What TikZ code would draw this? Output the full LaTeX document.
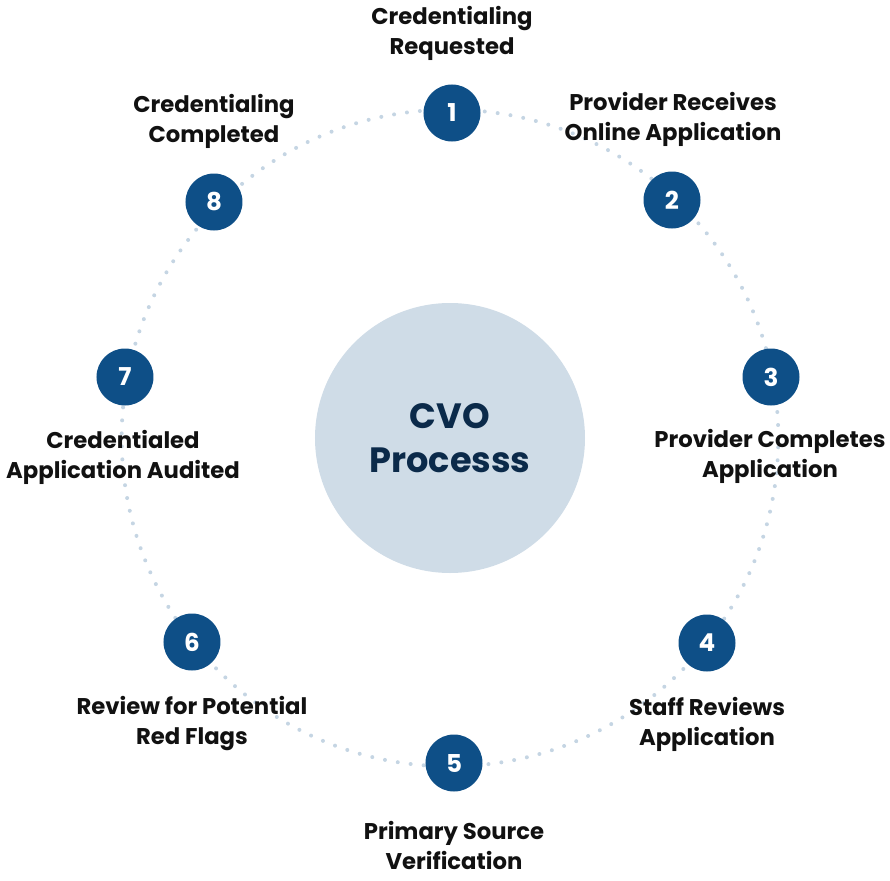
\documentclass[tikz,border=0pt]{standalone}
\usepackage{fontspec}
\setmainfont{Poppins}
\definecolor{stepblue}{RGB}{14,79,135}
\definecolor{coreblue}{RGB}{207,220,231}
\definecolor{corenavy}{RGB}{11,42,74}
\definecolor{ringdot}{RGB}{197,213,227}
\definecolor{labelink}{RGB}{17,17,17}
\usepackage{tikz}
\usetikzlibrary{positioning}

\begin{document}
\begin{tikzpicture}[
  core/.style={circle,fill=coreblue,minimum size=8.1cm,inner sep=0pt,align=center,
    text=corenavy,font=\bfseries\fontsize{30}{37}\selectfont},
  stepdot/.style={circle,fill=stepblue,minimum size=1.71cm,inner sep=0pt,
    text=white,font=\bfseries\fontsize{21}{24}\selectfont},
  steptext/.style={align=center,text=labelink,font=\bfseries\fontsize{19.4}{25.6}\selectfont},
  ring/.style={ringdot,line width=0.12cm,line cap=round,dash pattern=on 0pt off 0.39cm}]
  \useasboundingbox (-13.5,-13.26) rectangle (13.2,13.14);
  % centro
  \node[core] (cvo) at (0,0) {CVO\\Processs};
  % anel pontilhado
  \draw[ring] (cvo.center) circle (9.85);
  % etapas
  \node[stepdot] (s1) at ( 0.06, 9.75) {1};
  \node[stepdot] (s2) at ( 6.66, 7.14) {2};
  \node[stepdot] (s3) at ( 9.63, 1.83) {3};
  \node[stepdot] (s4) at ( 7.71,-6.15) {4};
  \node[stepdot] (s5) at ( 0.12,-9.75) {5};
  \node[stepdot] (s6) at (-7.74,-6.12) {6};
  \node[stepdot] (s7) at (-9.75, 1.83) {7};
  \node[stepdot] (s8) at (-7.08, 7.08) {8};
  % rotulos
  \node[steptext] (t1) at ( 0.06, 12.15) {Credentialing\\Requested};
  \node[steptext] (t2) at ( 6.69,  9.57) {Provider Receives\\Online Application};
  \node[steptext] (t3) at ( 9.60, -0.54) {Provider Completes\\Application};
  \node[steptext] (t4) at ( 7.71, -8.58) {Staff Reviews\\Application};
  \node[steptext] (t5) at ( 0.12,-12.21) {Primary Source\\Verification};
  \node[steptext] (t6) at (-7.74, -8.58) {Review for Potential\\Red Flags};
  \node[steptext] (t7) at (-9.81, -0.57) {Credentialed\\Application Audited};
  \node[steptext] (t8) at (-7.08,  9.51) {Credentialing\\Completed};
\end{tikzpicture}
\end{document}
